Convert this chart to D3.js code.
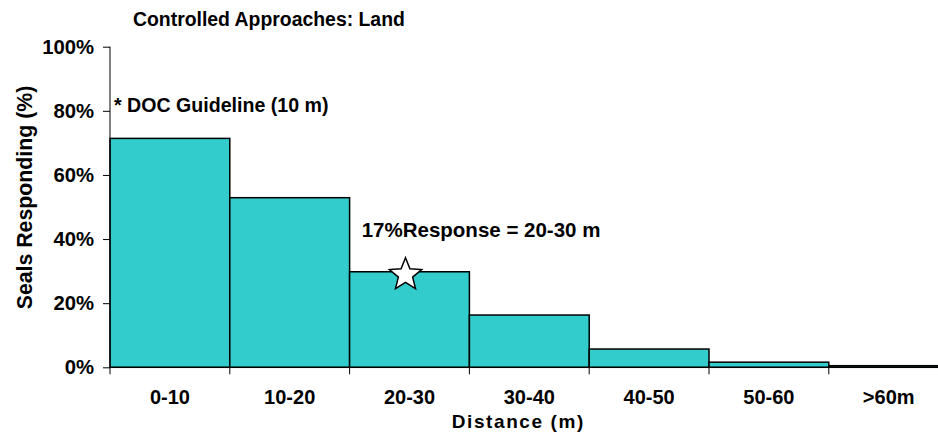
<!DOCTYPE html>
<html><head><meta charset="utf-8">
<script src="https://cdn.jsdelivr.net/npm/d3@7/dist/d3.min.js"></script>
<style>body{margin:0;background:#fff}svg{display:block}text{font-family:"Liberation Sans",Arial,sans-serif;font-weight:bold;fill:#000}</style>
</head><body>
<script>
const categories = ["0-10","10-20","20-30","30-40","40-50","50-60",">60m"];
const values = [71.4, 52.9, 29.8, 16.3, 5.7, 1.6, 0.5];
const yTicks = [0,20,40,60,80,100];
const title = "Controlled Approaches: Land";
const yLabel = "Seals Responding (%)";
const xLabel = "Distance (m)";
const note1 = "* DOC Guideline (10 m)";
const note2 = "17%Response = 20-30 m";
const starCategory = "20-30";

const W=938,H=434;
const svg=d3.select("body").append("svg").attr("width",W).attr("height",H);
const x=d3.scaleBand().domain(categories).range([110,948.6]).padding(0);
const y=d3.scaleLinear().domain([0,100]).range([367.3,46.7]);

svg.selectAll("rect.bar").data(values).enter().append("rect")
 .attr("x",(d,i)=>x(categories[i])).attr("y",d=>y(d))
 .attr("width",x.bandwidth()).attr("height",d=>y(0)-y(d))
 .attr("fill","#33CCCC").attr("stroke","#000").attr("stroke-width",1.5);

// y axis
const ya=svg.append("g").attr("transform","translate(110,0)")
 .call(d3.axisLeft(y).tickValues(yTicks).tickFormat(d=>d+"%").tickSize(7).tickPadding(9));
ya.select(".domain").attr("stroke","#000").attr("d","M0,"+y(100)+"V"+y(0));
ya.selectAll("text").style("font-size","20.3px").style("font-family","Liberation Sans, Arial, sans-serif").style("font-weight","bold").attr("fill","#000");

// x axis
const xa=svg.append("g").attr("transform","translate(0,"+y(0)+")");
xa.append("line").attr("x1",110).attr("x2",948).attr("stroke","#000").attr("stroke-width",1);
const bounds=categories.map(c=>x(c)).concat([x(categories[categories.length-1])+x.bandwidth()]);
xa.selectAll("line.t").data(bounds).enter().append("line")
 .attr("x1",d=>d).attr("x2",d=>d).attr("y1",0).attr("y2",7).attr("stroke","#000");
xa.selectAll("text.c").data(categories).enter().append("text")
 .attr("x",d=>x(d)+x.bandwidth()/2).attr("y",36.5).attr("text-anchor","middle")
 .style("font-size","20px").text(d=>d);

svg.append("text").attr("x",133).attr("y",26).style("font-size","19.4px").text(title);
svg.append("text").attr("transform","translate(32,197.5) rotate(-90)").attr("text-anchor","middle").style("font-size","21.3px").text(yLabel);
svg.append("text").attr("x",451.7).attr("y",427.5).style("font-size","19px")
 .attr("textLength",131.6).attr("lengthAdjust","spacing").text(xLabel);
svg.append("text").attr("x",114).attr("y",111.7).style("font-size","19.6px").text(note1);
svg.append("text").attr("x",361.7).attr("y",236.7).style("font-size","20.5px").text(note2);

// star
const si=categories.indexOf(starCategory);
const cx=x(starCategory)+x.bandwidth()/2-4, cy=y(values[si])+3, R=17, r=7.5;
const pts=d3.range(10).map(k=>{const a=-Math.PI/2+k*Math.PI/5;const rr=k%2?r:R;return [cx+rr*Math.cos(a),cy+rr*Math.sin(a)];});
svg.append("path").attr("d",d3.line()(pts)+"Z").attr("fill","#fff").attr("stroke","#000").attr("stroke-width",1.5);
</script>
</body></html>
